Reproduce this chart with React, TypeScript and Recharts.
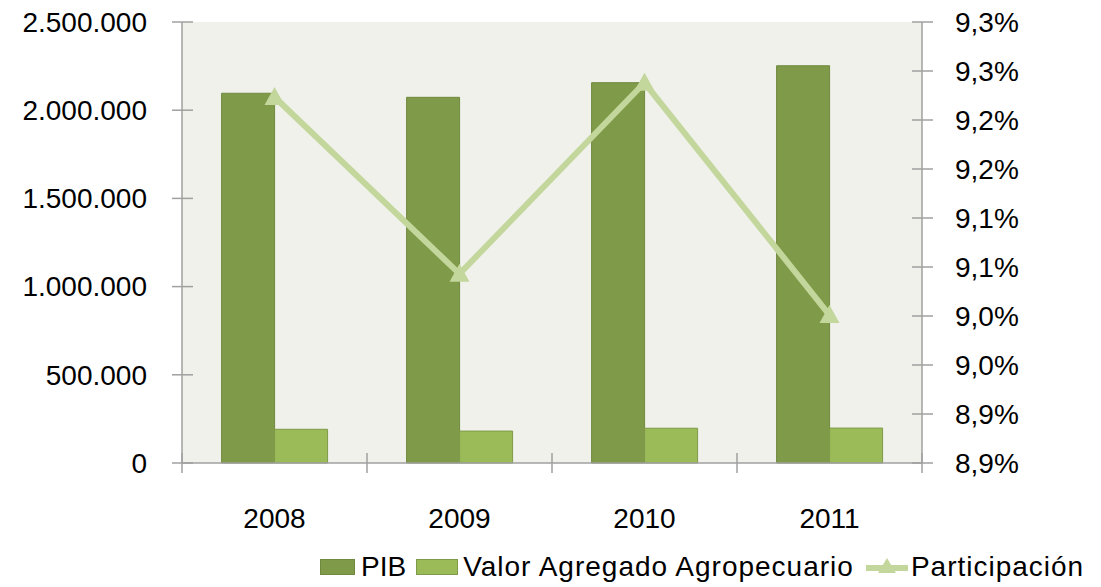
import React from 'react';
import { ComposedChart, Bar, Line, XAxis, YAxis, CartesianGrid, Legend } from 'recharts';

const years = ['2008', '2009', '2010', '2011'];
const pib = [2096000, 2073000, 2156000, 2252000];
const valorAgregado = [191000, 181000, 197000, 198000];
const participacion = [9.2235, 9.043, 9.238, 9.001];

const leftTicks = [0, 500000, 1000000, 1500000, 2000000, 2500000];
const rightTicks = [8.85, 8.9, 8.95, 9.0, 9.05, 9.1, 9.15, 9.2, 9.25, 9.3];
const rightTickLabels = ['8,9%', '8,9%', '9,0%', '9,0%', '9,1%', '9,1%', '9,2%', '9,2%', '9,3%', '9,3%'];

const W = 1101;
const H = 587;
const LEFT_W = 182;
const RIGHT_W = 179;
const BAND = (W - LEFT_W - RIGHT_W) / years.length;
const FONT = '"Liberation Sans", Arial, sans-serif';
const AXIS = '#A0A0A0';
const PIB_COLOR = '#7F9A48';
const VAA_COLOR = '#9BBB59';
const LINE_COLOR = '#C3D69B';

const chartData = years.map((year, i) => ({
  year,
  pib: pib[i],
  vaa: valorAgregado[i],
  part: participacion[i],
}));

const fmtThousands = (v: number) => v.toString().replace(/\B(?=(\d{3})+(?!\d))/g, '.');

const LeftTick = (props: any) => {
  const { x, y, payload } = props;
  return (
    <g>
      <line x1={x - 10} x2={x + 11} y1={y} y2={y} stroke={AXIS} strokeWidth={1.5} />
      <text x={x - 35} y={y} dy="0.35em" textAnchor="end" fontSize={28} fontFamily={FONT} fill="#000">
        {fmtThousands(payload.value)}
      </text>
    </g>
  );
};

const RightTick = (props: any) => {
  const { x, y, index } = props;
  return (
    <g>
      <line x1={x - 10} x2={x + 11} y1={y} y2={y} stroke={AXIS} strokeWidth={1.5} />
      <text x={x + 33} y={y} dy="0.35em" textAnchor="start" fontSize={28} fontFamily={FONT} fill="#000">
        {rightTickLabels[index]}
      </text>
    </g>
  );
};

const BottomTick = (props: any) => {
  const { x, y, payload, index } = props;
  const left = x - BAND / 2;
  const right = x + BAND / 2;
  return (
    <g>
      <line x1={left} x2={left} y1={y - 10} y2={y + 10} stroke={AXIS} strokeWidth={1.5} />
      {index === years.length - 1 && (
        <line x1={right} x2={right} y1={y - 10} y2={y + 10} stroke={AXIS} strokeWidth={1.5} />
      )}
      <text x={x} y={y + 55} dy="0.35em" textAnchor="middle" fontSize={28} fontFamily={FONT} fill="#000">
        {payload.value}
      </text>
    </g>
  );
};

const TriangleDot = (props: any) => {
  const { cx, cy, index } = props;
  if (cx == null || cy == null) return <g key={`d-${index}`} />;
  return (
    <polygon
      key={`d-${index}`}
      points={`${cx},${cy - 10} ${cx + 10},${cy + 8} ${cx - 10},${cy + 8}`}
      fill={LINE_COLOR}
    />
  );
};

const LegendContent = () => {
  const text: React.CSSProperties = { fontSize: 28, fontFamily: FONT, color: '#000', letterSpacing: 1 };
  return (
    <div style={{ display: 'flex', alignItems: 'center', height: 36, paddingLeft: 320 }}>
      <span style={{ width: 35, height: 16, background: PIB_COLOR, border: '1px solid #71893F', boxSizing: 'border-box', marginRight: 6 }} />
      <span style={{ ...text, letterSpacing: 0, marginRight: 10 }}>PIB</span>
      <span style={{ width: 42, height: 16, background: VAA_COLOR, border: '1px solid #7F9A48', boxSizing: 'border-box', marginRight: 5 }} />
      <span style={{ ...text, marginRight: 12 }}>Valor Agregado Agropecuario</span>
      <svg width={42} height={24} style={{ marginRight: 3 }}>
        <line x1={0} x2={42} y1={13} y2={13} stroke={LINE_COLOR} strokeWidth={6} />
        <polygon points="21,3 30,18 12,18" fill={LINE_COLOR} />
      </svg>
      <span style={text}>Participación</span>
    </div>
  );
};

export default function App() {
  return (
    <div style={{ position: 'absolute', left: 0, top: 0, width: W, height: H, background: '#fff' }}>
      <ComposedChart
        width={W}
        height={H}
        data={chartData}
        margin={{ top: 22, right: 0, bottom: 2, left: 0 }}
        barCategoryGap="21.4%"
        barGap={0}
      >
        <CartesianGrid fill="#EFF1EA" stroke="none" horizontal={false} vertical={false} />
        <XAxis
          dataKey="year"
          height={86}
          interval={0}
          tickLine={false}
          tickSize={0}
          tickMargin={0}
          axisLine={{ stroke: AXIS, strokeWidth: 1.5 }}
          tick={<BottomTick />}
        />
        <YAxis
          yAxisId="left"
          width={LEFT_W}
          domain={[0, 2500000]}
          ticks={leftTicks}
          interval={0}
          tickLine={false}
          tickSize={0}
          tickMargin={0}
          axisLine={{ stroke: AXIS, strokeWidth: 1.5 }}
          tick={<LeftTick />}
        />
        <YAxis
          yAxisId="right"
          orientation="right"
          width={RIGHT_W}
          domain={[8.85, 9.3]}
          ticks={rightTicks}
          interval={0}
          allowDataOverflow
          tickLine={false}
          tickSize={0}
          tickMargin={0}
          axisLine={{ stroke: AXIS, strokeWidth: 1.5 }}
          tick={<RightTick />}
        />
        <Legend verticalAlign="bottom" height={36} wrapperStyle={{ left: 0, width: W }} content={<LegendContent />} />
        <Bar yAxisId="left" dataKey="pib" name="PIB" fill={PIB_COLOR} stroke="#71893F" strokeWidth={1} isAnimationActive={false} />
        <Bar yAxisId="left" dataKey="vaa" name="Valor Agregado Agropecuario" fill={VAA_COLOR} stroke="#7F9A48" strokeWidth={1} isAnimationActive={false} />
        <Line
          yAxisId="right"
          type="linear"
          dataKey="part"
          name="Participación"
          stroke={LINE_COLOR}
          strokeWidth={6}
          dot={<TriangleDot />}
          activeDot={false}
          isAnimationActive={false}
        />
      </ComposedChart>
    </div>
  );
}
